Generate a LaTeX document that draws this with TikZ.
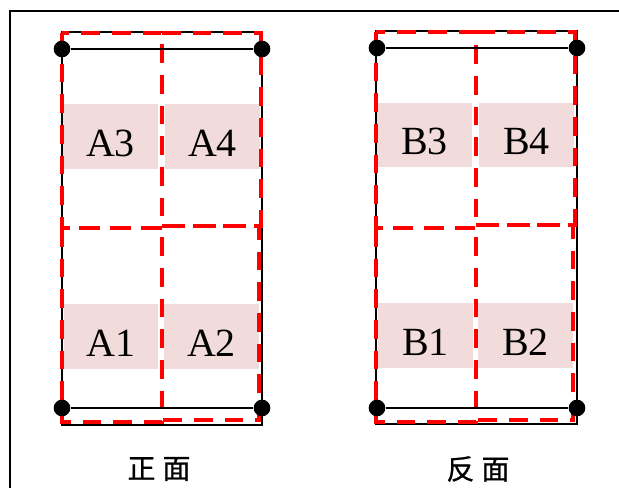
\documentclass[tikz,border=0pt]{standalone}
\usepackage{fontspec}
\usepackage{xcolor}
\usepackage{tikz}
\setmainfont{Liberation Serif}
\newfontfamily\cjk[FakeBold=0.7]{Noto Sans CJK SC}
\definecolor{cellPink}{HTML}{F2DCDB}
\definecolor{cutRed}{HTML}{FF0000}

\begin{document}
\begin{tikzpicture}[
        x=0.75pt, y=-0.75pt,
        cellbox/.style={
            fill=cellPink,
            inner sep=0pt,
            minimum width=71pt,
            minimum height=48.5pt,
            text height=31pt,
            text depth=1pt,
            font=\fontsize{30}{34}\selectfont
        },
        pindot/.style={
            circle,
            fill=black,
            inner sep=0pt,
            minimum size=12.5pt
        },
        sheetline/.style={
            draw=black,
            line width=1.2pt
        },
        cutline/.style={
            draw=cutRed,
            line width=3.3pt,
            dash pattern=on 14pt off 9pt
        },
        sidelabel/.style={
            font=\cjk\fontsize{21}{24}\selectfont
        }
    ]

        \useasboundingbox (0,0) rectangle (619,488);

        % Marco
        \draw[line width=2pt] (619,11) -- (10,11) -- (10,488);

        % =====================================================
        % PANEL IZQUIERDO
        % =====================================================

        % Celdas
        \node[cellbox] (A3) at (110.5,136.5) {A3};
        \node[cellbox] (A4) at (212.5,136.5) {A4};
        \node[cellbox] (A1) at (111,336.5) {A1};
        \node[cellbox] (A2) at (211.5,336.5) {A2};

        % Hoja
        \draw[sheetline] (62,32) rectangle (262,425);

        % Cortes
        \draw[cutline] (62,33) rectangle (162,228);
        \draw[cutline] (162,33) -- (261,33) -- (261,226) -- (162,226);
        \draw[cutline] (62,228) rectangle (162,422);
        \draw[cutline] (162,226) -- (259,226) -- (259,420) -- (162,420);

        % Puntos
        \node[pindot] (pa1) at (62,49) {};
        \node[pindot] (pa2) at (262,49) {};
        \node[pindot] (pa3) at (62,408) {};
        \node[pindot] (pa4) at (262,408) {};
        \draw[sheetline] (pa1) -- (pa2);
        \draw[sheetline] (pa3) -- (pa4);

        \node[sidelabel] (front) at (159,469) {正\hspace{0.25em}面};

        % =====================================================
        % PANEL DERECHO
        % =====================================================

        % Celdas
        \node[cellbox] (B3) at (424.5,135) {B3};
        \node[cellbox] (B4) at (526.5,135) {B4};
        \node[cellbox] (B1) at (425.5,335.5) {B1};
        \node[cellbox] (B2) at (525.5,335.5) {B2};

        % Hoja
        \draw[sheetline] (376,31) rectangle (577,424);

        % Cortes
        \draw[cutline] (376,32) rectangle (476,228);
        \draw[cutline] (476,32) -- (575,32) -- (575,225) -- (476,225);
        \draw[cutline] (376,228) rectangle (476,422);
        \draw[cutline] (476,225) -- (573,225) -- (573,420) -- (476,420);

        % Puntos
        \node[pindot] (pb1) at (377,48) {};
        \node[pindot] (pb2) at (577,48) {};
        \node[pindot] (pb3) at (377,408) {};
        \node[pindot] (pb4) at (577,408) {};
        \draw[sheetline] (pb1) -- (pb2);
        \draw[sheetline] (pb3) -- (pb4);

        \node[sidelabel] (back) at (478,469) {反\hspace{0.25em}面};

    \end{tikzpicture}
\end{document}
